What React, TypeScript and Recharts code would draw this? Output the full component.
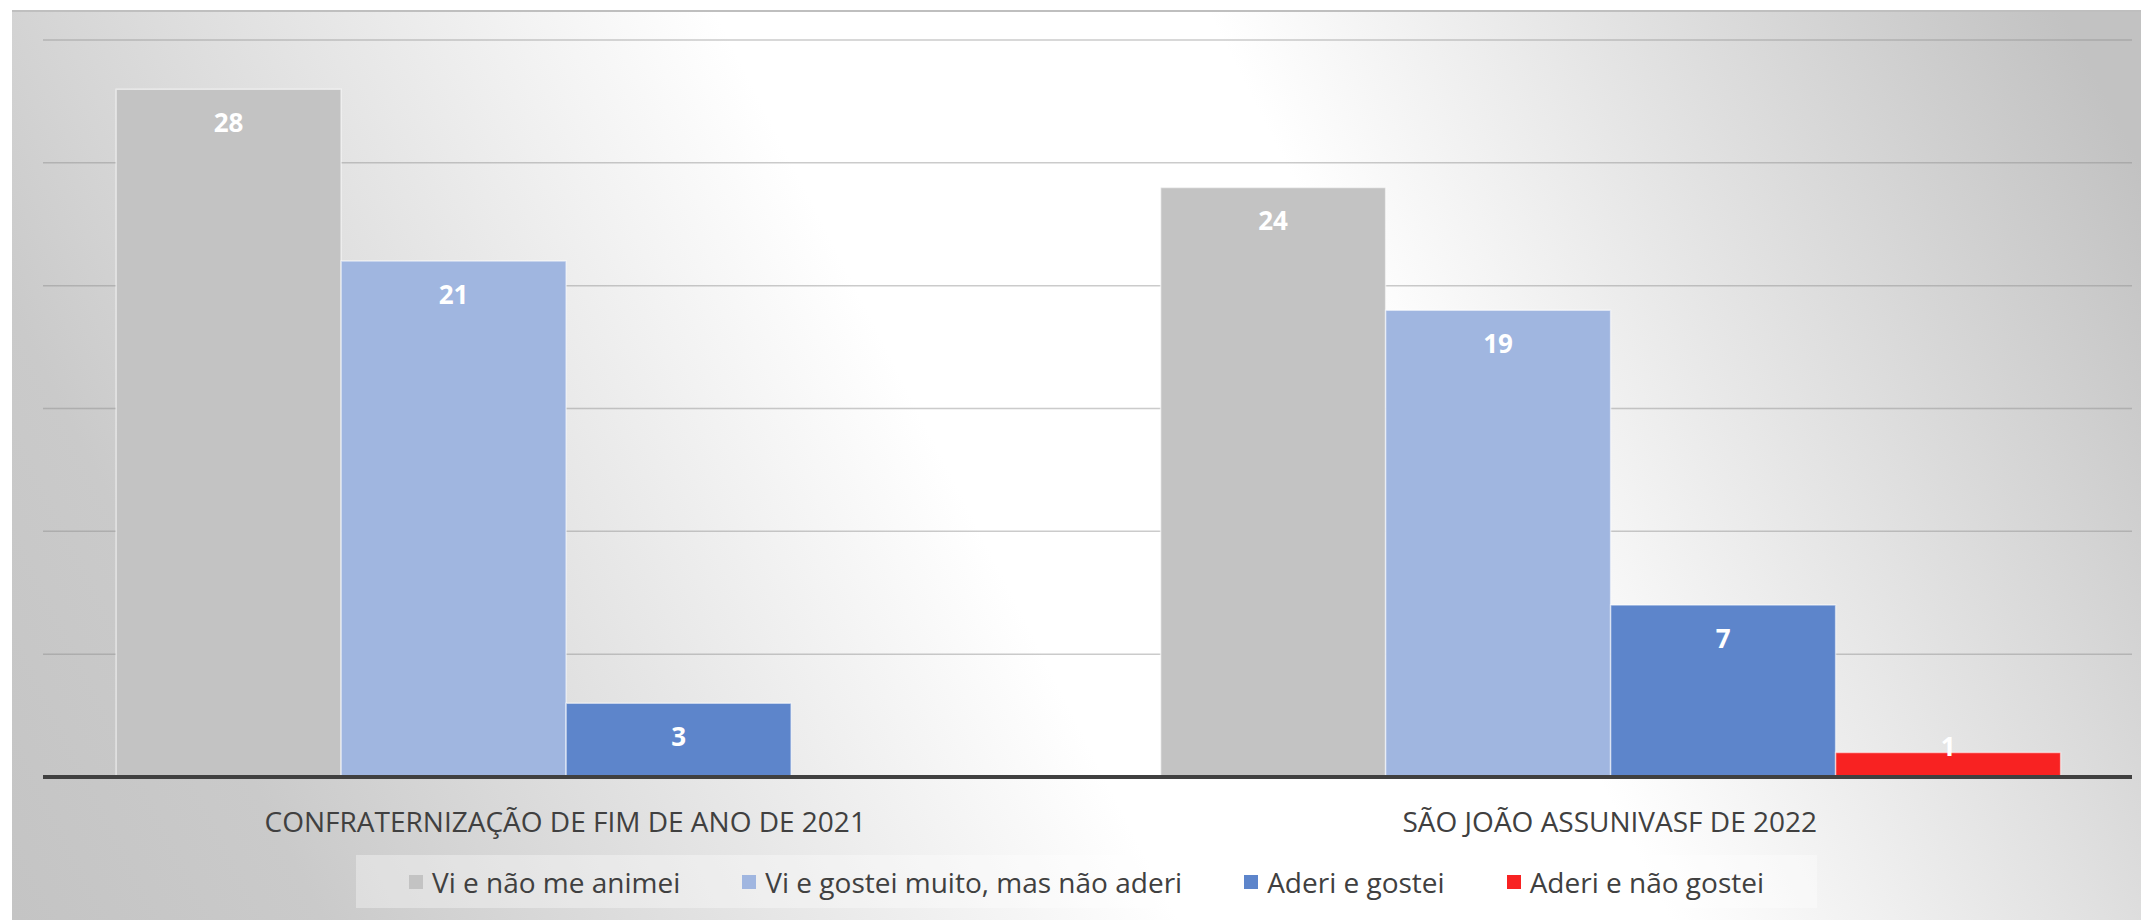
import React from 'react';
import { BarChart, Bar, XAxis, YAxis, CartesianGrid, Legend, LabelList } from 'recharts';

const categories = ['CONFRATERNIZAÇÃO DE FIM DE ANO DE 2021', 'SÃO JOÃO ASSUNIVASF DE 2022'];
const seriesNames = ['Vi e não me animei', 'Vi e gostei muito, mas não aderi', 'Aderi e gostei', 'Aderi e não gostei'];
const viNaoAnimei: (number | null)[] = [28, 24];
const viGostei: (number | null)[] = [21, 19];
const aderiGostei: (number | null)[] = [3, 7];
const aderiNaoGostei: (number | null)[] = [null, 1];
const yTicks = [0, 5, 10, 15, 20, 25, 30];
const seriesColors = ['#c3c3c3', '#a0b6e0', '#5d85cb', '#f82222'];

const seriesValues = [viNaoAnimei, viGostei, aderiGostei, aderiNaoGostei];
const data = categories.map((name, i) => {
  const row: any = { name };
  seriesValues.forEach((vals, s) => {
    row['s' + s] = vals[i];
  });
  return row;
});

const FONT = '"Open Sans", sans-serif';

const renderLabel = (props: any) => {
  const { x, y, width, height, value } = props;
  if (value == null) return null;
  const cx = Number(x) + Number(width) / 2;
  const cy = Number(height) > 50 ? Number(y) + 33 : Number(y) - 6;
  return (
    <text x={cx} y={cy} textAnchor="middle" dominantBaseline="central" fill="#ffffff" fontSize={26} fontWeight={700} fontFamily={FONT}>
      {value}
    </text>
  );
};

const CatTick = (props: any) => {
  const { x, y, payload } = props;
  return (
    <text x={x} y={Number(y) + 44} textAnchor="middle" dominantBaseline="central" fill="#404040" fontSize={28} fontFamily={FONT}>
      {payload.value}
    </text>
  );
};

const renderLegend = (props: any) => {
  const payload = [...(props.payload || [])].sort(
    (a: any, b: any) => seriesNames.indexOf(a.value) - seriesNames.indexOf(b.value)
  );
  return (
    <div style={{ width: '100%', height: '100%', background: 'rgba(255,255,255,0.35)', display: 'flex', alignItems: 'center', justifyContent: 'center', fontFamily: FONT, fontSize: 28, color: '#404040' }}>
      {payload.map((entry: any, i: number) => (
        <div key={i} style={{ display: 'flex', alignItems: 'center', marginRight: i < payload.length - 1 ? 62 : 0 }}>
          <div style={{ width: 14, height: 14, background: entry.color, marginRight: 9 }} />
          <span>{entry.value}</span>
        </div>
      ))}
    </div>
  );
};

export default function App() {
  return (
    <div style={{ position: 'absolute', left: 0, top: 0, width: 2141, height: 920, background: '#ffffff', fontFamily: FONT, overflow: 'hidden' }}>
      <div
        style={{
          position: 'absolute',
          left: 12,
          top: 10,
          width: 2129,
          height: 910,
          boxSizing: 'border-box',
          borderTop: '2px solid #bfbfbf',
          background: 'linear-gradient(63deg, #c4c4c4 0%, #cacaca 12%, #ffffff 45%, #ffffff 64%, #c2c2c2 97%)',
        }}
      />
      <div style={{ position: 'absolute', left: 0, top: 0 }}>
        <BarChart
          width={2141}
          height={920}
          data={data}
          margin={{ top: 40, right: 9, left: 43, bottom: 113 }}
          barCategoryGap="7%"
          barGap={0}
        >
          <CartesianGrid horizontal vertical={false} stroke="#8c8c8c" strokeOpacity={0.45} strokeWidth={1.5} />
          <YAxis hide domain={[0, 30]} ticks={yTicks} />
          <XAxis
            dataKey="name"
            height={30}
            tickLine={false}
            tickSize={0}
            tickMargin={0}
            axisLine={{ stroke: '#404040', strokeWidth: 4 }}
            tick={<CatTick />}
            interval={0}
          />
          {seriesNames.map((n, s) => (
            <Bar
              key={n}
              dataKey={'s' + s}
              name={n}
              fill={seriesColors[s]}
              stroke="rgba(255,255,255,0.55)"
              strokeWidth={1.5}
              isAnimationActive={false}
            >
              <LabelList dataKey={'s' + s} content={renderLabel} />
            </Bar>
          ))}
          <Legend
            layout="horizontal"
            verticalAlign="middle"
            align="center"
            itemSorter={null as any}
            content={renderLegend}
            wrapperStyle={{ position: 'absolute', left: 356, top: 855, width: 1461, height: 53 }}
          />
        </BarChart>
      </div>
    </div>
  );
}
